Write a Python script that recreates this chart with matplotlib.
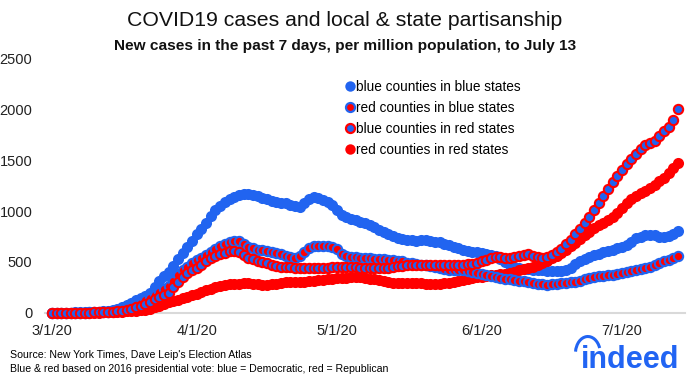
import numpy as np
import pandas as pd
import matplotlib
matplotlib.use("Agg")
import matplotlib.pyplot as plt
from matplotlib.lines import Line2D
from matplotlib.patches import Arc

plt.rcParams['font.family'] = ['Liberation Sans', 'DejaVu Sans']

dates = pd.date_range('2020-03-01', '2020-07-13')

blue_blue = [2, 2, 3, 3, 4, 5, 6, 7, 9, 11, 14, 18, 24, 32, 42, 55, 75, 100, 125, 150,
             170, 195, 250, 310, 360, 400, 460, 530, 590, 650, 710, 770, 820, 880, 950, 1010, 1050, 1090, 1120, 1140,
             1160, 1170, 1165, 1160, 1145, 1130, 1115, 1100, 1090, 1080, 1075, 1060, 1045, 1040, 1080, 1120, 1135, 1130, 1110, 1090,
             1060, 1010, 965, 945, 925, 910, 895, 880, 860, 840, 815, 795, 775, 755, 740, 730, 720, 715, 710, 715,
             715, 705, 700, 695, 680, 665, 650, 635, 620, 610, 600, 595, 585, 575, 565, 560, 525, 500, 470, 450,
             440, 435, 430, 425, 420, 420, 415, 410, 410, 410, 425, 445, 480, 505, 530, 550, 565, 580, 595, 610,
             620, 635, 650, 665, 700, 735, 750, 760, 765, 760, 750, 745, 755, 770, 805]

red_in_blue = [1, 1, 1, 2, 2, 3, 3, 4, 5, 6, 8, 10, 13, 17, 22, 30, 40, 55, 75, 100,
               125, 150, 180, 210, 235, 260, 310, 370, 420, 455, 490, 515, 540, 570, 600, 630, 660, 680, 695, 705,
               705, 680, 650, 635, 620, 615, 605, 595, 585, 580, 560, 545, 540, 560, 595, 640, 655, 660, 660, 655,
               645, 630, 575, 560, 550, 545, 540, 540, 535, 530, 530, 525, 520, 515, 510, 505, 495, 490, 480, 475,
               470, 460, 450, 440, 435, 425, 420, 420, 420, 410, 400, 390, 380, 370, 360, 353, 345, 335, 330, 320,
               315, 310, 305, 295, 285, 280, 275, 280, 285, 290, 295, 300, 305, 315, 330, 345, 355, 360, 365, 370,
               375, 385, 395, 405, 415, 425, 435, 445, 455, 470, 490, 505, 520, 540, 555]

blue_in_red = [1, 1, 1, 1, 2, 2, 3, 3, 4, 5, 6, 8, 10, 13, 17, 22, 30, 40, 55, 70,
               90, 110, 135, 160, 180, 200, 250, 300, 350, 390, 420, 445, 470, 505, 540, 560, 575, 590, 605, 610,
               600, 570, 540, 525, 510, 500, 490, 475, 465, 455, 450, 448, 446, 445, 442, 440, 440, 440, 442, 445,
               448, 450, 450, 452, 450, 448, 446, 445, 445, 442, 440, 440, 445, 455, 460, 465, 468, 470, 470, 470,
               468, 468, 470, 470, 472, 470, 470, 472, 475, 478, 480, 490, 505, 520, 535, 550, 548, 540, 540, 548,
               555, 565, 575, 560, 545, 540, 545, 565, 595, 630, 675, 720, 770, 820, 880, 940, 1010, 1080, 1150, 1215,
               1280, 1340, 1400, 1460, 1510, 1560, 1610, 1645, 1670, 1690, 1740, 1780, 1820, 1890, 2005]

red_red = [1, 1, 1, 1, 1, 2, 2, 2, 3, 3, 4, 5, 6, 8, 10, 12, 15, 18, 22, 27,
           33, 40, 55, 70, 90, 105, 118, 130, 145, 160, 175, 190, 205, 222, 240, 255, 265, 275, 282, 285,
           288, 290, 290, 285, 280, 277, 275, 280, 288, 295, 300, 302, 303, 304, 305, 310, 315, 322, 328, 332,
           336, 340, 343, 346, 348, 350, 350, 345, 338, 330, 325, 315, 305, 298, 295, 292, 290, 290, 290, 290,
           288, 286, 285, 288, 292, 296, 300, 310, 320, 330, 340, 348, 355, 362, 370, 375, 380, 385, 390, 405,
           420, 430, 440, 455, 470, 490, 510, 535, 560, 585, 620, 655, 690, 725, 760, 795, 830, 860, 885, 910,
           940, 985, 1030, 1080, 1115, 1150, 1175, 1200, 1225, 1255, 1290, 1320, 1370, 1420, 1475]

labels = ['blue counties in blue states', 'red counties in blue states',
          'blue counties in red states', 'red counties in red states']
tick_dates = ['2020-03-01', '2020-04-01', '2020-05-01', '2020-06-01', '2020-07-01']
tick_labels = ['3/1/20', '4/1/20', '5/1/20', '6/1/20', '7/1/20']

BLUE = '#2164f0'
RED = '#ff0000'

fig = plt.figure(figsize=(6.9, 3.76), dpi=100)
ax = fig.add_axes([0.0652, 0.1676, 0.9275, 0.678])

ms = 8
ax.plot(dates, blue_blue, 'o', ms=ms, color=BLUE, mec=BLUE, mew=0, clip_on=False, zorder=3)
ax.plot(dates, red_red, 'o', ms=ms, color=RED, mec=RED, mew=0, clip_on=False, zorder=4)
ax.plot(dates, red_in_blue, 'o', ms=ms - 1.3, color=RED, mec=BLUE, mew=1.5, clip_on=False, zorder=5)
ax.plot(dates, blue_in_red, 'o', ms=ms - 1.3, color=BLUE, mec=RED, mew=1.5, clip_on=False, zorder=6)

ax.set_ylim(0, 2500)
ax.set_yticks([0, 500, 1000, 1500, 2000, 2500])
ax.set_xlim(pd.Timestamp('2020-03-01') - pd.Timedelta(hours=36),
            pd.Timestamp('2020-07-13') + pd.Timedelta(hours=36))
ax.set_xticks(pd.to_datetime(tick_dates))
ax.set_xticklabels(tick_labels)
ax.tick_params(length=0, labelsize=10.5, colors='#222222')
ax.tick_params(axis='y', pad=9)
ax.tick_params(axis='x', pad=8)
for s in ['top', 'right', 'left']:
    ax.spines[s].set_visible(False)
ax.spines['bottom'].set_color('#d9d9d9')
ax.spines['bottom'].set_linewidth(1.5)

handles = [
    Line2D([], [], ls='', marker='o', ms=7.5, color=BLUE, mew=0),
    Line2D([], [], ls='', marker='o', ms=6.5, color=RED, mec=BLUE, mew=1.6),
    Line2D([], [], ls='', marker='o', ms=6.5, color=BLUE, mec=RED, mew=1.6),
    Line2D([], [], ls='', marker='o', ms=7.5, color=RED, mew=0),
]
ax.legend(handles, labels, loc='upper left', bbox_to_anchor=(0.459, 0.94), frameon=False,
          fontsize=9.8, handlelength=0.6, handletextpad=0.2, labelspacing=0.5, borderpad=0)

fig.text(0.5, 0.945, 'COVID19 cases and local & state partisanship', ha='center', va='center',
         fontsize=15.3, color='#111111')
fig.text(0.5, 0.878, 'New cases in the past 7 days, per million population, to July 13', ha='center',
         va='center', fontsize=11.1, fontweight='bold', color='#111111')
fig.text(0.014, 0.055, "Source: New York Times, Dave Leip's Election Atlas", fontsize=7.6, va='center')
fig.text(0.014, 0.018, 'Blue & red based on 2016 presidential vote: blue = Democratic, red = Republican',
         fontsize=7.6, va='center')

fig.text(0.985, 0.02, 'indeed', ha='right', va='baseline', fontsize=22, fontweight='bold', color='#2164f3')
fig.add_artist(Arc((0.852, 0.06), 0.036, 0.09, theta1=40, theta2=165, transform=fig.transFigure,
                   color='#2164f3', lw=2.2))

fig.savefig('out.png', dpi=100)
